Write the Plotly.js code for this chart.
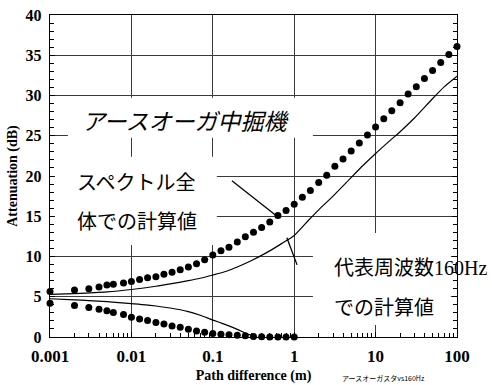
<!DOCTYPE html>
<html>
<head>
<meta charset="utf-8">
<script src="https://cdn.plot.ly/plotly-3.0.1.min.js"></script>
<style>
  html, body { margin: 0; padding: 0; background: #fff; }
  #chart { width: 492px; height: 385px; }
</style>
</head>
<body>
<div id="chart"></div>
<script>
// Path difference (m) at which the attenuation was computed
const pathDiff = [
  0.001, 0.002, 0.003, 0.004, 0.005, 0.006, 0.008, 0.01,
  0.0126, 0.0158, 0.02, 0.0251, 0.0316, 0.0398, 0.0501, 0.0631, 0.0794, 0.1,
  0.126, 0.158, 0.2, 0.251, 0.316, 0.398, 0.501, 0.631, 0.794, 1,
  1.26, 1.58, 2, 2.51, 3.16, 3.98, 5.01, 6.31, 7.94, 10,
  12.6, 15.8, 20, 25.1, 31.6, 39.8, 50.1, 63.1, 79.4, 100
];

// Whole-spectrum calculation, upper branch (dB)
const spectrumUpper = [
  5.65, 5.85, 6.0, 6.2, 6.45, 6.55, 6.7, 6.9,
  7.15, 7.35, 7.5, 7.8, 8.05, 8.35, 8.7, 9.1, 9.6, 10.2,
  10.7, 11.15, 11.8, 12.45, 13.0, 13.6, 14.3, 15.1, 15.7, 16.5,
  17.35, 18.2, 19.2, 20.1, 21.2, 22.1, 23.1, 24.1, 25.1, 26.1,
  27.1, 28.1, 29.1, 30.2, 31.1, 32.1, 33.1, 34.1, 35.1, 36.1
];

// Whole-spectrum calculation, lower branch (dB), up to 1 m
const spectrumLower = [
  4.2, 3.9, 3.65, 3.45, 3.25, 3.05, 2.8, 2.45,
  2.25, 2.05, 1.8, 1.6, 1.38, 1.2, 0.96, 0.76, 0.58, 0.45,
  0.33, 0.28, 0.22, 0.15, 0.06, 0.02, 0, 0, 0, 0
];

// Representative 160 Hz calculation, upper branch
const band160UpperX = [0.001, 0.002, 0.005, 0.01, 0.02, 0.03, 0.05, 0.07, 0.1, 0.15, 0.2, 0.3, 0.5, 0.7, 1,
                       1.5, 2, 3, 5, 7, 10, 15, 20, 30, 50, 70, 100];
const band160UpperY = [5.3, 5.4, 5.6, 5.9, 6.3, 6.6, 7.0, 7.3, 7.7, 8.2, 8.7, 9.5, 10.7, 11.6, 12.6,
                       14.5, 15.8, 17.5, 19.8, 21.3, 22.8, 24.4, 25.5, 27.2, 29.6, 31.1, 32.4];

// Representative 160 Hz calculation, lower branch
const band160LowerX = [0.001, 0.002, 0.003, 0.005, 0.007, 0.01, 0.015, 0.02, 0.03, 0.05, 0.07, 0.1, 0.13, 0.16, 0.2, 0.25, 0.3, 0.35];
const band160LowerY = [4.75, 4.62, 4.52, 4.4, 4.28, 4.15, 4.0, 3.85, 3.6, 3.15, 2.7, 2.1, 1.7, 1.35, 0.95, 0.5, 0.2, 0];

// Axis ticks
const xTickVals = [0.001, 0.01, 0.1, 1, 10, 100];
const xTickText = ['0.001', '0.01', '0.1', '1', '10', '100'];
const yTickStep = 5;
const yRange = [0, 40];

const serifFamily = 'Liberation Serif';
const xTickFont = { family: serifFamily, size: 17, weight: 'bold', color: '#000' };
const yTickFont = { family: serifFamily, size: 16, weight: 'bold', color: '#000' };
const jpFont = 'Liberation Serif, Noto Sans CJK JP';

const dotStyle = { color: '#000', size: 7, symbol: 'circle' };
const lineStyle = { color: '#000', width: 1.2, shape: 'spline', smoothing: 0.6 };

const traces = [
  { x: pathDiff, y: spectrumUpper, mode: 'markers', marker: dotStyle, cliponaxis: false },
  { x: pathDiff.slice(0, spectrumLower.length), y: spectrumLower, mode: 'markers', marker: dotStyle, cliponaxis: false },
  { x: band160UpperX, y: band160UpperY, mode: 'lines', line: lineStyle },
  { x: band160LowerX, y: band160LowerY, mode: 'lines', line: lineStyle }
];

// white panels behind the labels that interrupt the grid
const panel = (x0, y0, x1, y1) => ({
  type: 'rect', xref: 'paper', yref: 'paper', x0, y0, x1, y1,
  fillcolor: '#fff', line: { width: 0 }, layer: 'above'
});
const leader = (x0, y0, x1, y1) => ({
  type: 'line', xref: 'paper', yref: 'paper', x0, y0, x1, y1,
  line: { color: '#000', width: 1.3 }, layer: 'above'
});

const label = (text, x, y, size, extra) => Object.assign({
  text, xref: 'paper', yref: 'paper', x, y, xanchor: 'left', yanchor: 'middle',
  showarrow: false, font: { family: jpFont, size, color: '#000' }
}, extra || {});

const axisTitleFont = { family: serifFamily, size: 14, weight: 'bold', color: '#000' };

const layout = {
  width: 492, height: 385,
  margin: { l: 50, r: 35, t: 15, b: 48 },
  paper_bgcolor: '#fff', plot_bgcolor: '#fff',
  showlegend: false,
  xaxis: {
    type: 'log', range: [-3, 2],
    tickmode: 'array', tickvals: xTickVals, ticktext: xTickText,
    ticks: 'inside', ticklen: 5, tickcolor: '#000', tickfont: xTickFont, ticklabelstandoff: 3,
    showgrid: true, gridcolor: '#3a3a3a', gridwidth: 1,
    showline: true, linecolor: '#000', linewidth: 1.2, mirror: true,
    zeroline: false,
    minor: { dtick: 'D1', ticks: 'inside', ticklen: 4, tickcolor: '#000', showgrid: false },
    title: { text: 'Path difference (m)', font: axisTitleFont, standoff: 5 }
  },
  yaxis: {
    range: yRange,
    tickmode: 'linear', tick0: 0, dtick: yTickStep,
    ticks: 'inside', ticklen: 5, tickcolor: '#000', tickfont: yTickFont, ticklabelstandoff: 4,
    showgrid: true, gridcolor: '#3a3a3a', gridwidth: 1,
    showline: true, linecolor: '#000', linewidth: 1.2, mirror: 'ticks',
    zeroline: false,
    minor: { dtick: 1, ticks: 'inside', ticklen: 4, tickcolor: '#000', showgrid: false },
    title: { text: 'Attenuation (dB)', font: axisTitleFont, standoff: 4 }
  },
  shapes: [
    panel(0.044, 0.619, 0.646, 0.743),
    panel(0.012, 0.286, 0.410, 0.560),
    panel(0.646, 0.037, 0.985, 0.323),
    leader(0.447, 0.485, 0.560, 0.373),
    leader(0.582, 0.308, 0.607, 0.224)
  ],
  annotations: [
    label('アースオーガ中掘機', 0.074, 0.675, 23, { font: { family: 'Noto Sans CJK JP', size: 23, color: '#000', style: 'italic' } }),
    label('スペクトル全', 0.061, 0.479, 20),
    label('体での計算値', 0.061, 0.358, 20),
    label('代表周波数160Hz', 0.693, 0.215, 20),
    label('での計算値', 0.693, 0.090, 20),
    label('アースオーガスタvs160Hz', 0.712, -0.128, 7, { font: { family: 'Noto Sans CJK JP', size: 7, color: '#000' } })
  ]
};

Plotly.newPlot('chart', traces, layout, { staticPlot: true, displayModeBar: false });
</script>
</body>
</html>
